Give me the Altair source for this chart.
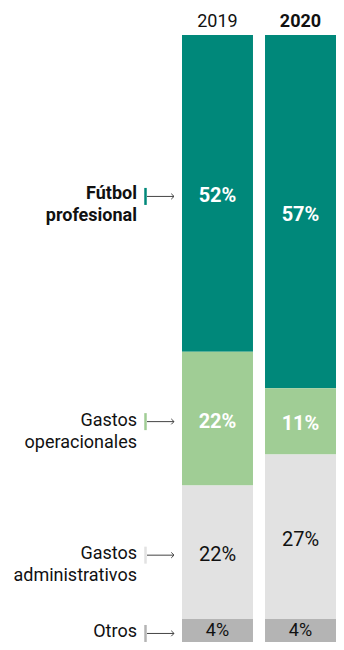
import altair as alt
import pandas as pd

categories = ["Fútbol profesional", "Gastos operacionales", "Gastos administrativos", "Otros"]
side_labels = ["Fútbol\nprofesional", "Gastos\noperacionales", "Gastos\nadministrativos", "Otros"]
years = ["2019", "2020"]
shares_2019 = [52.2, 22.0, 22.0, 3.8]
shares_2020 = [58.2, 10.9, 27.1, 3.8]
labels_2019 = ["52%", "22%", "22%", "4%"]
labels_2020 = ["57%", "11%", "27%", "4%"]
colors = ["#00887A", "#A0CD95", "#E2E2E2", "#B4B4B4"]

rows = []
for year, shares, labels in [("2019", shares_2019, labels_2019), ("2020", shares_2020, labels_2020)]:
    acc = 0.0
    for i, (cat, side, s, lab) in enumerate(zip(categories, side_labels, shares, labels)):
        rows.append({"year": year, "category": cat, "side": side, "idx": i,
                     "start": acc, "end": acc + s, "mid": acc + s / 2, "label": lab})
        acc += s
df = pd.DataFrame(rows)

FONT = "Roboto"
color_scale = alt.Scale(domain=categories, range=colors)
yscale = alt.Scale(domain=[0, 100], reverse=True, nice=False, zero=False)

x_enc = alt.X(
    "year:N",
    scale=alt.Scale(domain=years, paddingInner=0.145, paddingOuter=0),
    axis=alt.Axis(orient="top", title=None, domain=False, ticks=False, labelAngle=0,
                  labelFontSize=18, labelFont=FONT, labelColor="#111", labelPadding=9,
                  labelBaseline="alphabetic",
                  labelFontWeight={"condition": {"test": "datum.value === '2020'", "value": "bold"},
                                   "value": "normal"}),
)

base = alt.Chart(df)

bars = base.mark_bar().encode(
    x=x_enc,
    y=alt.Y("start:Q", scale=yscale, axis=None),
    y2="end:Q",
    color=alt.Color("category:N", scale=color_scale, legend=None),
)

txt_white = base.transform_filter("datum.idx < 2").mark_text(
    font=FONT, fontSize=20, fontWeight="bold", color="white", baseline="middle", dy=3
).encode(x=x_enc, y=alt.Y("mid:Q", scale=yscale, axis=None), text="label:N")

txt_admin = base.transform_filter("datum.idx == 2").mark_text(
    font=FONT, fontSize=20, color="#111", baseline="middle", dy=3
).encode(x=x_enc, y=alt.Y("mid:Q", scale=yscale, axis=None), text="label:N")

txt_otros = base.transform_filter("datum.idx == 3").mark_text(
    font=FONT, fontSize=18, color="#111", baseline="middle", dy=1
).encode(x=x_enc, y=alt.Y("mid:Q", scale=yscale, axis=None), text="label:N")

left = base.transform_filter("datum.year == '2019'")

side_bold = left.transform_filter("datum.idx == 0").mark_text(
    font=FONT, fontSize=18, fontWeight="bold", color="#111", align="right",
    baseline="middle", lineBreak="\n", lineHeight=22, dy=1
).encode(x=alt.value(-45), y=alt.Y("mid:Q", scale=yscale, axis=None), text="side:N")

side_norm = left.transform_filter("datum.idx > 0").mark_text(
    font=FONT, fontSize=18, color="#111", align="right",
    baseline="middle", lineBreak="\n", lineHeight=22, dy=2
).encode(x=alt.value(-45), y=alt.Y("mid:Q", scale=yscale, axis=None), text="side:N")

ticks = left.mark_tick(orient="vertical", size=17, thickness=2.5, opacity=1).encode(
    x=alt.value(-36.5),
    y=alt.Y("mid:Q", scale=yscale, axis=None),
    yOffset=alt.value(3),
    color=alt.Color("category:N", scale=color_scale, legend=None),
)

arrow_line = left.mark_rule(color="#444", strokeWidth=1, yOffset=3).encode(
    x=alt.value(-35), x2=alt.value(-8),
    y=alt.Y("mid:Q", scale=yscale, axis=None),
)

arrow_head = left.mark_point(
    shape="M-1,-1L0,0L-1,1", filled=False, stroke="#444", strokeWidth=1, size=30, opacity=1, yOffset=3
).encode(x=alt.value(-8), y=alt.Y("mid:Q", scale=yscale, axis=None))

chart = alt.layer(
    bars, txt_white, txt_admin, txt_otros, side_bold, side_norm, ticks, arrow_line, arrow_head
).properties(
    width=154, height=607,
    autosize=alt.AutoSizeParams(type="none"),
    padding={"left": 174, "top": 27, "right": 0, "bottom": 0},
).configure_view(stroke=None)

chart.save("out.html", embed_options={"renderer": "svg", "actions": False})
